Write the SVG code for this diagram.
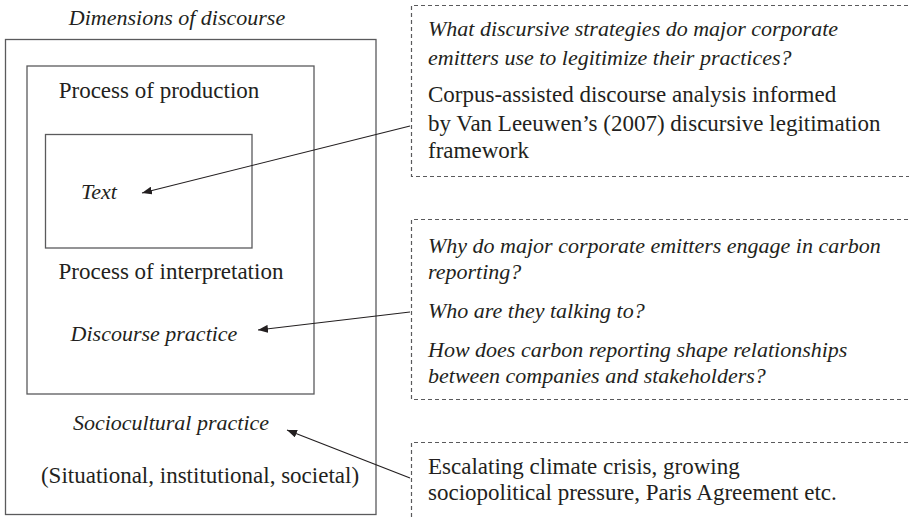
<svg xmlns="http://www.w3.org/2000/svg" width="909" height="518" viewBox="0 0 909 518">
  <style>
    .t { font-family: "Liberation Serif", "Times New Roman", serif; font-size: 23px; fill: #231f20; }
    .i { font-style: italic; font-size: 22px; }
    .box { fill: none; stroke: #5a5a5c; stroke-width: 1.3; }
    .dash { fill: none; stroke: #5a5a5c; stroke-width: 1.2; stroke-dasharray: 4 3; }
    .conn { fill: none; stroke: #231f20; stroke-width: 1.1; marker-end: url(#head); }
  </style>
  <defs>
    <marker id="head" viewBox="0 0 10 8" refX="10" refY="4" markerWidth="10" markerHeight="8" markerUnits="userSpaceOnUse" orient="auto">
      <path d="M0,0 L10,4 L0,8 Z" fill="#231f20"/>
    </marker>
  </defs>
  <rect width="909" height="518" fill="#ffffff"/>

  <!-- Fairclough's three nested dimensions -->
  <g id="title">
    <text class="t i" x="177" y="25" text-anchor="middle">Dimensions of discourse</text>
  </g>
  <g id="sociocultural">
    <rect class="box" x="5.5" y="39.5" width="370.5" height="475"/>
    <text class="t i" x="171" y="430" text-anchor="middle">Sociocultural practice</text>
    <text class="t" x="200" y="483" text-anchor="middle">(Situational, institutional, societal)</text>
  </g>
  <g id="discourse-practice">
    <rect class="box" x="27" y="66" width="287" height="328"/>
    <text class="t" x="159" y="98" text-anchor="middle">Process of production</text>
    <text class="t" x="171" y="279" text-anchor="middle">Process of interpretation</text>
    <text class="t i" x="154" y="341" text-anchor="middle">Discourse practice</text>
  </g>
  <g id="text">
    <rect class="box" x="45.5" y="134.5" width="206.5" height="113.5"/>
    <text class="t i" x="81" y="199">Text</text>
  </g>

  <!-- Research questions and methods -->
  <g id="q-text">
    <path class="dash" d="M915,5.5 H411.5 V176.5 H915"/>
    <text class="t i" x="428" y="36">What discursive strategies do major corporate</text>
    <text class="t i" x="428" y="65">emitters use to legitimize their practices?</text>
    <text class="t" x="428" y="102">Corpus-assisted discourse analysis informed</text>
    <text class="t" x="428" y="131">by Van Leeuwen’s (2007) discursive legitimation</text>
    <text class="t" x="428" y="158">framework</text>
  </g>
  <g id="q-practice">
    <path class="dash" d="M915,219.5 H411.5 V399.5 H915"/>
    <text class="t i" x="428" y="253">Why do major corporate emitters engage in carbon</text>
    <text class="t i" x="428" y="279">reporting?</text>
    <text class="t i" x="428" y="318">Who are they talking to?</text>
    <text class="t i" x="428" y="357">How does carbon reporting shape relationships</text>
    <text class="t i" x="428" y="383">between companies and stakeholders?</text>
  </g>
  <g id="context">
    <path class="dash" d="M915,442.5 H411.5 V520"/>
    <text class="t" x="428" y="474">Escalating climate crisis, growing</text>
    <text class="t" x="428" y="500">sociopolitical pressure, Paris Agreement etc.</text>
  </g>

  <g id="connectors">
    <line class="conn" x1="410" y1="126" x2="142" y2="193"/>
    <line class="conn" x1="410" y1="312" x2="258" y2="330"/>
    <line class="conn" x1="410" y1="478" x2="287" y2="430"/>
  </g>
</svg>
